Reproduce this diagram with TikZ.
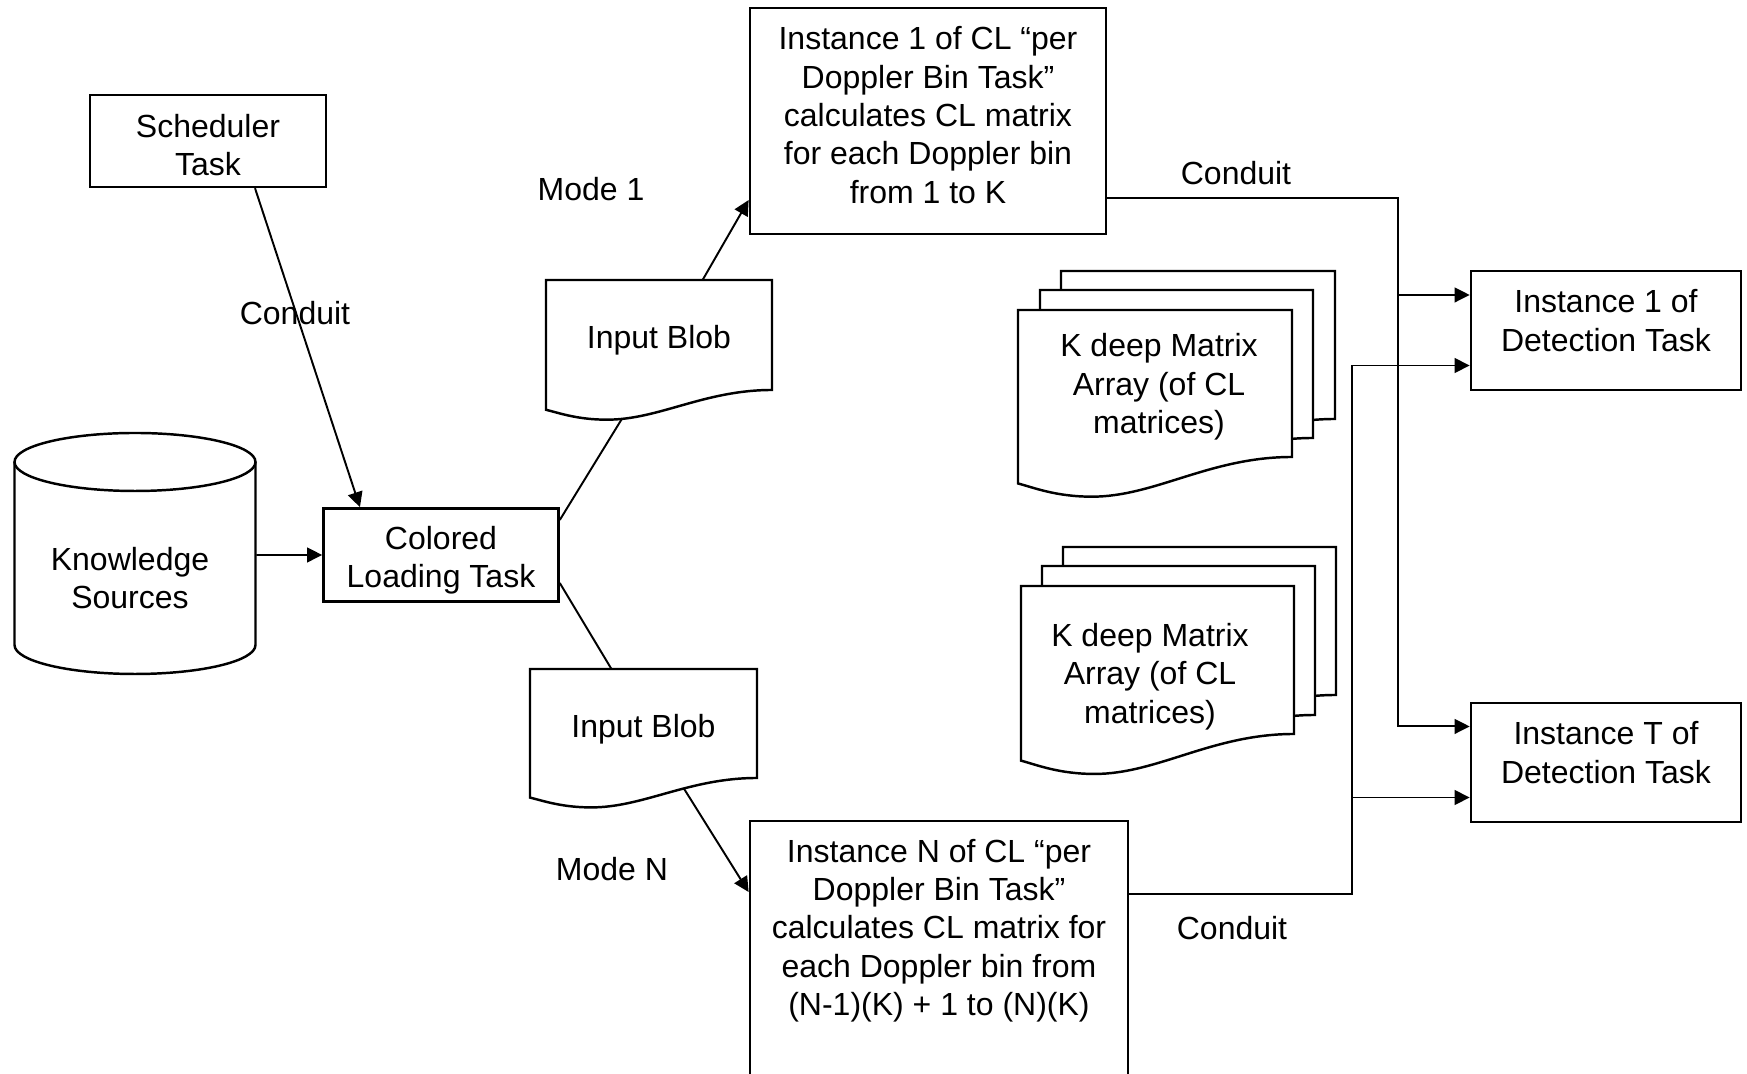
\documentclass[tikz,border=0pt]{standalone}
\usepackage{fontspec}
\setmainfont{Liberation Sans}
\usetikzlibrary{arrows.meta}

% foglio con bordo ondulato: x0, y0, x1, y destro in basso
\newcommand{\foglio}[4]{%
  \draw[linea, fill=white] (#1,#2) -- (#3,#2) -- (#3,#4)
    .. controls ({#3-0.3*(#3-#1)},#4) and ({#1+0.5*(#3-#1)},{#4+0.27*(#4-#2)}) .. ({#1+0.27*(#3-#1)},{#4+0.27*(#4-#2)})
    .. controls ({#1+0.14*(#3-#1)},{#4+0.27*(#4-#2)}) and ({#1+0.06*(#3-#1)},{#4+0.21*(#4-#2)}) .. (#1,{#4+0.18*(#4-#2)}) -- cycle;}

\begin{document}
\begin{tikzpicture}[x=0.01cm, y=-0.01cm,
  every node/.style={font=\fontsize{9.1}{10.9}\selectfont},
  box/.style={draw, line width=0.7pt, inner sep=0, align=center},
  linea/.style={line width=0.7pt},
  conn/.style={line width=0.55pt, -{Triangle[length=4.3pt,width=4.2pt]}},
  filo/.style={line width=0.55pt}]
  \useasboundingbox (0,0) rectangle (1747,1074);

  % Sorgenti
  \node[box, minimum width=2.36cm, minimum height=0.92cm] (sched) at (208,141) {\rule{0pt}{0.31cm}Scheduler\\Task};
  \draw[linea] (135,462) ellipse [x radius=120.5, y radius=29];
  \draw[linea] (14.5,462) -- (14.5,645) arc[start angle=180, end angle=0, x radius=120.5, y radius=29] -- (255.5,462);
  \node[align=center, minimum width=2.51cm, inner sep=0] (ks) at (130,578) {Knowledge\\Sources};
  \node[box, minimum width=2.35cm, minimum height=0.93cm] (colored) at (441,555) {\rule{0pt}{0.34cm}Colored\\Loading Task};

  % Blob di ingresso
  \foglio{546}{280}{772}{390}
  \node[minimum width=2.26cm, minimum height=1.10cm, inner sep=0] (blob1) at (659,335) {\rule{0pt}{0.34cm}Input Blob};
  \foglio{530}{669}{757}{778}
  \node[minimum width=2.27cm, minimum height=1.09cm, inner sep=0] (blobN) at (643.5,723.5) {\rule{0pt}{0.34cm}Input Blob};

  % Istanze per bin Doppler
  \node[box, minimum width=3.56cm, minimum height=2.26cm, text depth=0.12cm] (inst1) at (928,121)
    {Instance 1 of CL “per\\Doppler Bin Task”\\calculates CL matrix\\for each Doppler bin\\from 1 to K};
  \node[box, minimum width=3.78cm, minimum height=2.8cm, anchor=north] (instN) at (939,820) {};
  \node[align=center] (instNtxt) at (939,930.5)
    {Instance N of CL “per\\Doppler Bin Task”\\calculates CL matrix for\\each Doppler bin from\\(N-1)(K) + 1 to (N)(K)};

  % Pile di matrici
  \foglio{1061}{271}{1335}{419}
  \foglio{1040}{290}{1313}{438}
  \foglio{1018}{310}{1292}{457}
  \node[align=center] (mat1) at (1159,387) {K deep Matrix\\Array (of CL\\matrices)};
  \foglio{1063}{547}{1336}{695}
  \foglio{1042}{566}{1315}{715}
  \foglio{1021}{586}{1294}{734}
  \node[align=center] (mat2) at (1150,676.5) {K deep Matrix\\Array (of CL\\matrices)};

  % Rilevamento
  \node[box, minimum width=2.70cm, minimum height=1.19cm, text depth=0.2cm] (det1) at (1606,330.5) {Instance 1 of\\Detection Task};
  \node[box, minimum width=2.70cm, minimum height=1.19cm, text depth=0.2cm] (detT) at (1606,762.5) {Instance T of\\Detection Task};

  % Etichette
  \node (cond1) at (295,313) {Conduit};
  \node (cond2) at (1236,173) {Conduit};
  \node (cond3) at (1232,928) {Conduit};
  \node (mode1) at (591,189) {Mode 1};
  \node (modeN) at (612,869) {Mode N};

  % Collegamenti
  \draw[conn] ([xshift=0.47cm]sched.south) -- ([xshift=-0.81cm]colored.north);
  \draw[conn] ([yshift=0.23cm]ks.east) -- (colored.west);
  \draw[filo] ([yshift=0.35cm]colored.east) -- ([xshift=-0.37cm,yshift=-0.28cm]blob1.south);
  \draw[filo] ([yshift=-0.28cm]colored.east) -- ([xshift=-0.325cm]blobN.north);
  \draw[conn] ([xshift=0.44cm]blob1.north) -- ([yshift=-0.79cm]inst1.west);
  \draw[conn] ([xshift=0.405cm,yshift=-0.10cm]blobN.south) -- ([yshift=-0.72cm]instN.north west);

  \coordinate (busA) at (1398,0);
  \coordinate (busB) at (1352,0);
  \coordinate (d1a) at ([yshift=0.355cm]det1.west);
  \coordinate (d1b) at ([yshift=-0.35cm]det1.west);
  \coordinate (dTa) at ([yshift=0.36cm]detT.west);
  \coordinate (dTb) at ([yshift=-0.35cm]detT.west);

  \draw[conn] ([yshift=-0.77cm]inst1.east) -| (busA |- dTa) -- (dTa);
  \draw[conn] (busA |- d1a) -- (d1a);
  \draw[conn] ([yshift=-0.74cm]instN.north east) -| (busB |- d1b) -- (d1b);
  \draw[conn] (busB |- dTb) -- (dTb);
\end{tikzpicture}
\end{document}
